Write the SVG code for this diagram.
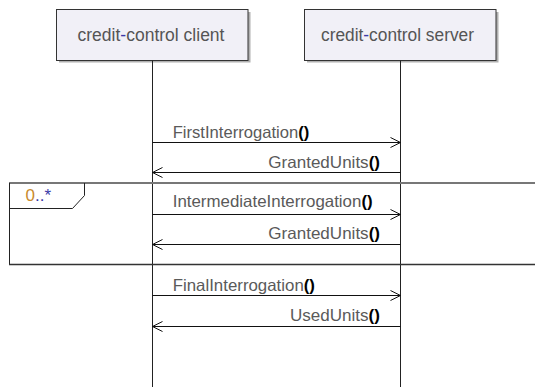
<svg xmlns="http://www.w3.org/2000/svg" width="535" height="387" viewBox="0 0 535 387">
<style>
.box{fill:#f1f0f7;stroke:#333;stroke-width:1}
.shadow{fill:#b0b0b0}
.title{font-family:"Liberation Sans",Arial,sans-serif;font-size:17.5px;fill:#555;text-anchor:middle}
.life{stroke:#222;stroke-width:1;fill:none}
.msg{stroke:#111;stroke-width:1;fill:none}
.lbl{font-family:"Liberation Sans",Arial,sans-serif;font-size:16.5px;fill:#5a5a5a}
.par{fill:#000;font-weight:bold}
.blue{fill:#3a3aa8}
</style>
<defs>
<marker id="open" markerUnits="userSpaceOnUse" markerWidth="12" markerHeight="12" refX="11" refY="6" orient="auto">
<path d="M1,1 L11,6 L1,11" fill="none" stroke="#111" stroke-width="1"/>
</marker>
</defs>
<rect width="535" height="387" fill="#fff"/>
<g id="client">
<rect class="shadow" x="59" y="12" width="191.5" height="50.5"/>
<rect class="box" x="56.5" y="9.5" width="191.5" height="51"/>
<text class="title" x="151" y="41" textLength="147" lengthAdjust="spacingAndGlyphs">credit<tspan class="blue">-</tspan>control client</text>
<line class="life" x1="152.5" y1="60.5" x2="152.5" y2="387"/>
</g>
<g id="server">
<rect class="shadow" x="307" y="12" width="191.5" height="50.5"/>
<rect class="box" x="304.5" y="9.5" width="191.5" height="51"/>
<text class="title" x="397.5" y="41" textLength="153" lengthAdjust="spacingAndGlyphs">credit<tspan class="blue">-</tspan>control server</text>
<line class="life" x1="400.5" y1="60.5" x2="400.5" y2="387"/>
</g>
<g id="loop">
<line x1="9" y1="183" x2="535" y2="183" stroke="#777" stroke-width="2"/>
<line x1="9.5" y1="183" x2="9.5" y2="264.5" stroke="#222" stroke-width="1"/>
<line x1="9" y1="264.5" x2="535" y2="264.5" stroke="#333" stroke-width="1.5"/>
<path d="M84.5,183 L84.5,195.5 L72.5,208.5 L9.5,208.5" fill="none" stroke="#222" stroke-width="1"/>
<text x="25.5" y="201" font-family="'Liberation Sans',Arial,sans-serif" font-size="17px"><tspan fill="#c98a2c">0</tspan><tspan class="blue">..*</tspan></text>
</g>
<g id="connectors">
<line class="msg" x1="152.5" y1="142.5" x2="400.5" y2="142.5" marker-end="url(#open)"/>
<text class="lbl" x="172.7" y="137.7" textLength="136.6" lengthAdjust="spacingAndGlyphs">FirstInterrogation<tspan class="par">()</tspan></text>
<line class="msg" x1="400.5" y1="172.5" x2="152.5" y2="172.5" marker-end="url(#open)"/>
<text class="lbl" x="268.3" y="168.3" textLength="111.7" lengthAdjust="spacingAndGlyphs">GrantedUnits<tspan class="par">()</tspan></text>
<line class="msg" x1="152.5" y1="214.5" x2="400.5" y2="214.5" marker-end="url(#open)"/>
<text class="lbl" x="172.7" y="206.7" textLength="200" lengthAdjust="spacingAndGlyphs">IntermediateInterrogation<tspan class="par">()</tspan></text>
<line class="msg" x1="400.5" y1="244.5" x2="152.5" y2="244.5" marker-end="url(#open)"/>
<text class="lbl" x="268.3" y="239.3" textLength="111.7" lengthAdjust="spacingAndGlyphs">GrantedUnits<tspan class="par">()</tspan></text>
<line class="msg" x1="152.5" y1="295.5" x2="400.5" y2="295.5" marker-end="url(#open)"/>
<text class="lbl" x="172.7" y="290.7" textLength="142.3" lengthAdjust="spacingAndGlyphs">FinalInterrogation<tspan class="par">()</tspan></text>
<line class="msg" x1="400.5" y1="326.5" x2="152.5" y2="326.5" marker-end="url(#open)"/>
<text class="lbl" x="290" y="321.3" textLength="90" lengthAdjust="spacingAndGlyphs">UsedUnits<tspan class="par">()</tspan></text>
</g>
</svg>
